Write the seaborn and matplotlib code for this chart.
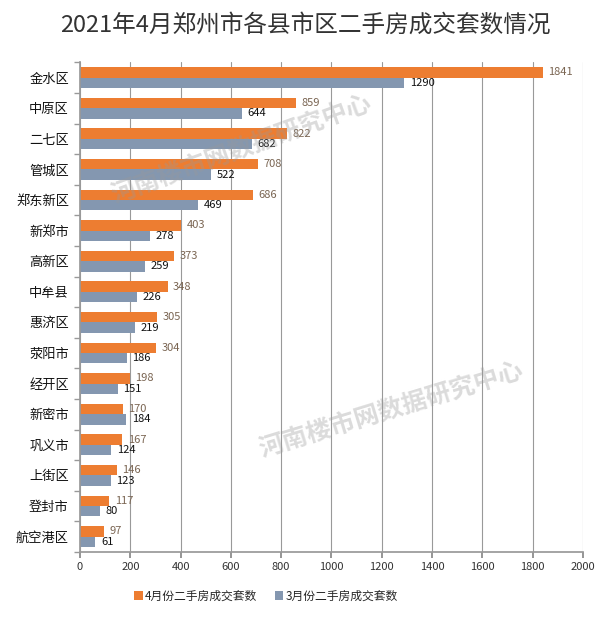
import matplotlib
matplotlib.use("Agg")
import matplotlib.pyplot as plt
import seaborn as sns
import pandas as pd

districts = ["金水区", "中原区", "二七区", "管城区", "郑东新区", "新郑市", "高新区", "中牟县",
             "惠济区", "荥阳市", "经开区", "新密市", "巩义市", "上街区", "登封市", "航空港区"]
april = [1841, 859, 822, 708, 686, 403, 373, 348, 305, 304, 198, 170, 167, 146, 117, 97]
march = [1290, 644, 682, 522, 469, 278, 259, 226, 219, 186, 151, 184, 124, 123, 80, 61]
series_names = ["4月份二手房成交套数", "3月份二手房成交套数"]
colors = ["#ED7D31", "#8497B0"]
x_ticks = list(range(0, 2001, 200))

df = pd.DataFrame({
    "区县": districts * 2,
    "套数": april + march,
    "月份": [series_names[0]] * len(districts) + [series_names[1]] * len(districts),
})

sns.set_theme(style="white")
plt.rcParams["font.family"] = ["Noto Sans CJK SC", "DejaVu Sans"]

fig = plt.figure(figsize=(6.11, 6.23), dpi=100)
ax = fig.add_axes([0.131, 0.114, 0.823, 0.786])

sns.barplot(data=df, y="区县", x="套数", hue="月份", orient="h",
            palette=colors, width=0.68, saturation=1, linewidth=0, ax=ax, legend=True)

# 数据标签
label_colors = ["#7A6552", "#111111"]
for cont, lc in zip(ax.containers, label_colors):
    ax.bar_label(cont, padding=4, fontsize=8, color=lc)

ax.set_xlim(0, 2000)
ax.set_xticks(x_ticks)
ax.set_xticklabels([str(t) for t in x_ticks], fontsize=8, color="#333333")
ax.tick_params(axis="y", labelsize=9.5, length=0, pad=8, labelcolor="#111111")
ax.tick_params(axis="x", length=4, direction="out", color="#888888", bottom=True)
ax.set_xlabel("")
ax.set_ylabel("")
ax.grid(axis="x", color="#999999", linewidth=0.8)
ax.set_axisbelow(True)
for s in ["top", "right"]:
    ax.spines[s].set_visible(False)
for s in ["left", "bottom"]:
    ax.spines[s].set_color("#999999")

# 左侧分隔刻度
ax.set_yticks([i + 0.5 for i in range(-1, len(districts))], minor=True)
ax.tick_params(axis="y", which="minor", length=4, color="#999999", left=True)

fig.suptitle("2021年4月郑州市各县市区二手房成交套数情况", x=0.5, y=0.978, fontsize=17, color="#333333")

leg = ax.legend(loc="upper center", bbox_to_anchor=(0.37, -0.055), ncol=2, frameon=False,
                fontsize=8.5, handlelength=0.7, handleheight=0.7, columnspacing=1.5, handletextpad=0.2)

# 水印
fig.text(0.395, 0.76, "河南楼市网数据研究中心", rotation=20, fontsize=18, fontweight="bold",
         color="#999999", alpha=0.35, ha="center", va="center")
fig.text(0.64, 0.342, "河南楼市网数据研究中心", rotation=17, fontsize=18, fontweight="bold",
         color="#999999", alpha=0.35, ha="center", va="center")

fig.savefig("out.png", dpi=100, facecolor="white")
